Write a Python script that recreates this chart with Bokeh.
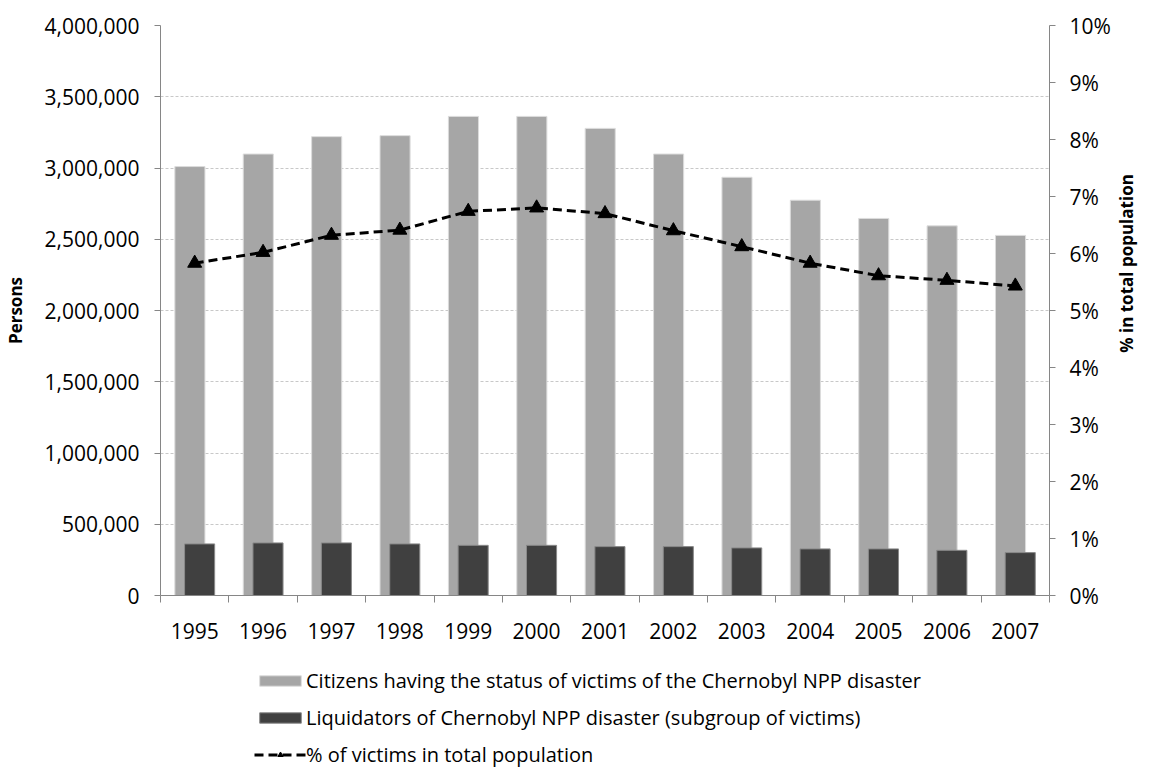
import math
from bokeh.plotting import figure
from bokeh.layouts import column, row
from bokeh.models import (ColumnDataSource, Range1d, LinearAxis, FixedTicker, Label,
                          SingleIntervalTicker, NumeralTickFormatter, Legend, LegendItem)
from bokeh.transform import dodge
from bokeh.embed import file_html
from bokeh.resources import INLINE

# ---- data ----
years = ["1995", "1996", "1997", "1998", "1999", "2000", "2001",
         "2002", "2003", "2004", "2005", "2006", "2007"]
victims = [3010000, 3098000, 3220000, 3227000, 3362000, 3362000, 3278000,
           3098000, 2935000, 2774000, 2646000, 2594000, 2527000]
liquidators = [362000, 369000, 369000, 362000, 352000, 352000, 343000,
               343000, 334000, 327000, 327000, 317000, 301000]
pct_victims = [0.0583, 0.0602, 0.0632, 0.0641, 0.0674, 0.0680, 0.0670,
               0.0640, 0.0612, 0.0583, 0.0561, 0.0553, 0.0543]

label_victims = "Citizens having the status of victims of the Chernobyl NPP disaster"
label_liq = "Liquidators of Chernobyl NPP disaster (subgroup of victims)"
label_pct = "% of victims in total population"
right_title = "% in total population"

FONT = "Open Sans"
AXIS_COL = "#868686"
LIGHT = dict(fill_color="#a6a6a6", line_color="#dcdcdc", line_width=1)
DARK = dict(fill_color="#404040", line_color="#8a8a8a", line_width=1)
LINE = dict(line_color="black", line_width=3, line_dash="9 5")
MARK = dict(marker="triangle", size=14, fill_color="black", line_color="black")

SIDE_W = 26
MAIN_W = 1139 - SIDE_W

pos = list(range(len(years)))
src = ColumnDataSource(dict(x=pos, victims=victims, liq=liquidators, pct=pct_victims))

p = figure(width=MAIN_W, height=660, output_backend="svg", toolbar_location=None,
           x_range=Range1d(-0.5, len(years) - 0.5), y_range=Range1d(0, 4000000),
           min_border_left=149, min_border_right=MAIN_W - 1049, min_border_top=25,
           min_border_bottom=65, outline_line_color=None)
p.extra_y_ranges = {"pct": Range1d(0, 0.10)}

p.vbar(x=dodge("x", -0.07), top="victims", width=0.44, source=src, **LIGHT)
p.vbar(x=dodge("x", 0.072), top="liq", width=0.44, source=src, **DARK)
p.line(x="x", y="pct", source=src, y_range_name="pct", **LINE)
p.scatter(x="x", y="pct", source=src, y_range_name="pct", **MARK)

# x axis
xa = p.xaxis[0]
xa.ticker = FixedTicker(ticks=pos, minor_ticks=[i - 0.5 for i in range(len(years) + 1)])
xa.major_label_overrides = {i: y for i, y in enumerate(years)}
xa.major_tick_out = 0
xa.major_tick_in = 0
xa.minor_tick_out = 7
xa.minor_tick_in = 0
xa.major_label_standoff = 20

# left axis
ya = p.yaxis[0]
ya.ticker = SingleIntervalTicker(interval=500000, num_minor_ticks=0)
ya.formatter = NumeralTickFormatter(format="0,0")
ya.axis_label = "Persons"
ya.major_label_standoff = 15
ya.axis_label_standoff = 15

# right axis (its title is drawn in the narrow strip to the right)
ra = LinearAxis(y_range_name="pct",
                ticker=SingleIntervalTicker(interval=0.01, num_minor_ticks=0),
                formatter=NumeralTickFormatter(format="0%"))
ra.major_label_standoff = 14
p.add_layout(ra, "right")

for ax in [xa, ya, ra]:
    ax.axis_line_color = AXIS_COL
    ax.major_tick_line_color = AXIS_COL
    ax.minor_tick_line_color = AXIS_COL if ax is xa else None
    ax.major_label_text_font = FONT
    ax.major_label_text_font_size = "21px"
    ax.major_label_text_color = "#000000"
    ax.axis_label_text_font = FONT
    ax.axis_label_text_font_size = "17px"
    ax.axis_label_text_font_style = "bold"
    ax.axis_label_text_color = "#000000"
for ax in [ya, ra]:
    ax.major_tick_out = 6
    ax.major_tick_in = 0

p.xgrid.grid_line_color = None
p.ygrid.grid_line_color = "#c8c8c8"
p.ygrid.grid_line_dash = "3 2"
p.ygrid.grid_line_width = 1

# ---- legend strip below the chart (hidden copies of the series feed the legend) ----
pl = figure(width=MAIN_W, height=107, output_backend="svg", toolbar_location=None,
            x_range=Range1d(-0.5, len(years) - 0.5), y_range=Range1d(0, 1),
            x_axis_type=None, y_axis_type=None, min_border=0,
            outline_line_color=None)
pl.grid.grid_line_color = None
r1 = pl.vbar(x="x", top="victims", width=0.44, source=src, visible=False, **LIGHT)
r2 = pl.vbar(x="x", top="liq", width=0.44, source=src, visible=False, **DARK)
r3 = pl.line(x="x", y="pct", source=src, visible=False, **LINE)
r4 = pl.scatter(x="x", y="pct", source=src, visible=False, **MARK)

legend = Legend(items=[LegendItem(label=label_victims, renderers=[r1]),
                       LegendItem(label=label_liq, renderers=[r2]),
                       LegendItem(label=label_pct, renderers=[r3, r4])],
                location=(94, -1), orientation="vertical",
                glyph_width=52, glyph_height=13, label_height=20, spacing=10,
                label_standoff=0, padding=0, margin=0,
                border_line_color=None, background_fill_alpha=0,
                inactive_fill_alpha=0,
                label_text_font=FONT, label_text_font_size="20px",
                label_text_color="#000000")
pl.add_layout(legend, "center")

# ---- narrow strip on the right holding the secondary axis title ----
ps = figure(width=SIDE_W, height=767, output_backend="svg", toolbar_location=None,
            x_range=Range1d(0, 1), y_range=Range1d(0, 4000000),
            x_axis_type=None, y_axis_type=None,
            min_border_left=0, min_border_right=0, min_border_top=25,
            min_border_bottom=172, outline_line_color=None)
ps.grid.grid_line_color = None
ps.add_layout(Label(x=0.5, y=2330000, text=right_title, angle=math.pi / 2,
                    text_align="center", text_baseline="middle",
                    text_font=FONT, text_font_size="17px", text_font_style="bold",
                    text_color="#000000"))

page = row(column(p, pl, spacing=0), ps, spacing=0)
open("out.html", "w").write(file_html(page, INLINE))
